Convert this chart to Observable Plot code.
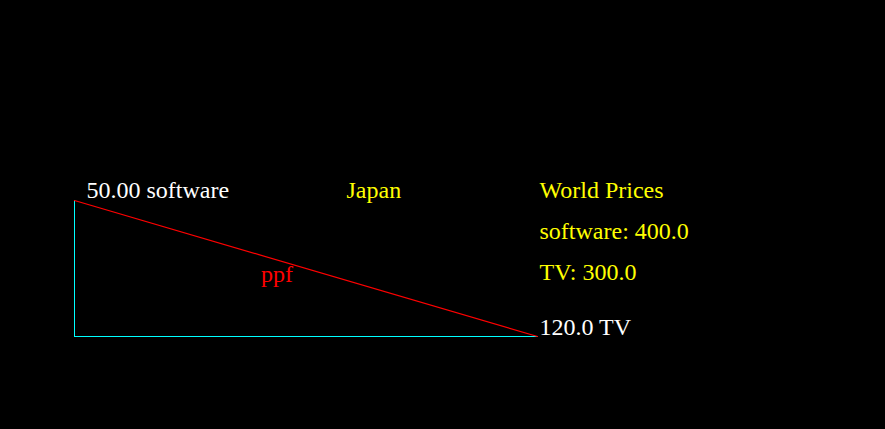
<!DOCTYPE html>
<html>
<head>
<meta charset="utf-8">
<script src="https://cdn.jsdelivr.net/npm/d3@7"></script>
<script src="https://cdn.jsdelivr.net/npm/@observablehq/plot@0.6"></script>
<style>
  html, body { margin: 0; padding: 0; background: #000; }
  #chart svg { display: block; }
</style>
</head>
<body>
<div id="chart"></div>
<script>
const country = "Japan";
const goods = ["software", "TV"];
const maxOutput = [50.00, 120.0];
const maxOutputLabels = ["50.00", "120.0"];
const worldPrices = [400.0, 300.0];
const worldPriceLabels = ["400.0", "300.0"];
const ppfLabel = "ppf";
const pricesTitle = "World Prices";

const maxSoft = maxOutput[0];
const maxTV = maxOutput[1];

const axesPath = [
  {tv: 0, sw: maxSoft},
  {tv: 0, sw: 0},
  {tv: maxTV, sw: 0}
];
const ppf = [
  {tv: 0, sw: maxSoft},
  {tv: maxTV, sw: 0}
];

const font = "Liberation Serif, Times New Roman, serif";
const common = {fontFamily: font, fontSize: 24, lineAnchor: "bottom", textAnchor: "start"};

const priceRows = goods.map((g, i) => ({tv: maxTV, sw: maxSoft, label: `${g}: ${worldPriceLabels[i]}`, i}));

const chart = Plot.plot({
  width: 885,
  height: 429,
  margin: 0,
  style: {background: "#000", overflow: "visible"},
  x: {domain: [0, maxTV], range: [74, 537], axis: null},
  y: {domain: [0, maxSoft], range: [336, 200], axis: null},
  marks: [
    Plot.line(axesPath, {x: "tv", y: "sw", stroke: "#00ffff", strokeWidth: 1, shapeRendering: "crispEdges"}),
    Plot.line(ppf, {x: "tv", y: "sw", stroke: "#ff0000", strokeWidth: 1.2}),
    Plot.text([{tv: 0, sw: maxSoft}], {x: "tv", y: "sw", text: () => `${maxOutputLabels[0]} ${goods[0]}`, fill: "#ffffff", dx: 12, dy: -3, ...common}),
    Plot.text([{tv: maxTV, sw: 0}], {x: "tv", y: "sw", text: () => `${maxOutputLabels[1]} ${goods[1]}`, fill: "#ffffff", dx: 2, dy: -2, ...common}),
    Plot.text([{tv: 0, sw: maxSoft}], {x: "tv", y: "sw", text: () => country, fill: "#ffff00", dx: 272, dy: -3, ...common}),
    Plot.text([{tv: maxTV, sw: maxSoft}], {x: "tv", y: "sw", text: () => pricesTitle, fill: "#ffff00", dx: 2, dy: -3, ...common}),
    Plot.text(priceRows.slice(0, 1), {x: "tv", y: "sw", text: "label", fill: "#ffff00", dx: 2, dy: 38, ...common}),
    Plot.text(priceRows.slice(1, 2), {x: "tv", y: "sw", text: "label", fill: "#ffff00", dx: 2, dy: 79, ...common}),
    Plot.text([{tv: maxTV / 2, sw: maxSoft / 2}], {x: "tv", y: "sw", text: () => ppfLabel, fill: "#ff0000", dx: -45, dy: 13, ...common})
  ]
});
document.getElementById("chart").appendChild(chart);
</script>
</body>
</html>
